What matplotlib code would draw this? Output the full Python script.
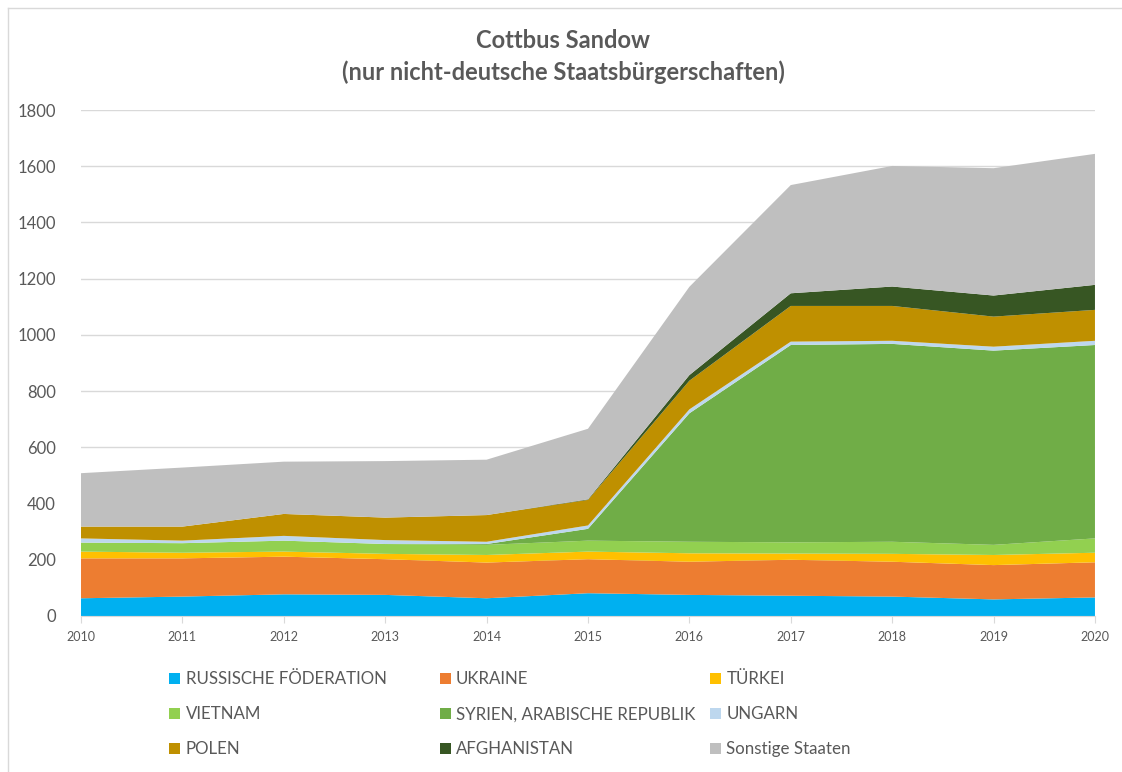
import matplotlib
matplotlib.use("Agg")
import matplotlib.pyplot as plt
from matplotlib.patches import Patch
from matplotlib.lines import Line2D

# values (persons per year)
years = [2010, 2011, 2012, 2013, 2014, 2015, 2016, 2017, 2018, 2019, 2020]
russland = [63, 69, 77, 75, 63, 81, 75, 72, 69, 59, 66]
ukraine = [142, 136, 134, 127, 127, 121, 118, 128, 124, 122, 125]
tuerkei = [24, 20, 18, 19, 27, 27, 30, 22, 28, 36, 34]
vietnam = [32, 34, 39, 35, 36, 39, 41, 40, 43, 36, 51]
syrien = [0, 0, 0, 0, 3, 42, 457, 702, 704, 691, 688]
ungarn = [15, 9, 17, 14, 8, 12, 14, 12, 11, 14, 15]
polen = [42, 50, 78, 80, 95, 91, 102, 127, 124, 107, 110]
afghanistan = [0, 0, 0, 0, 0, 2, 20, 45, 69, 75, 89]
sonstige = [190, 210, 186, 201, 197, 251, 314, 385, 429, 453, 466]

labels = ["RUSSISCHE FÖDERATION", "UKRAINE", "TÜRKEI", "VIETNAM",
          "SYRIEN, ARABISCHE REPUBLIK", "UNGARN", "POLEN", "AFGHANISTAN",
          "Sonstige Staaten"]
colors = ["#00B0F0", "#ED7D31", "#FFC000", "#92D050", "#70AD47",
          "#BDD7EE", "#BF9000", "#375623", "#BFBFBF"]
series = [russland, ukraine, tuerkei, vietnam, syrien, ungarn, polen,
          afghanistan, sonstige]

TXT = "#595959"
plt.rcParams["font.family"] = ["Lato", "DejaVu Sans"]

fig = plt.figure(figsize=(11.22, 7.72), dpi=100)
ax = fig.add_axes([0.0722, 0.2021, 0.9037, 0.6554])

ax.stackplot(years, *series, colors=colors, linewidth=0)

ax.set_xlim(2010, 2020)
ax.set_ylim(0, 1800)
ax.set_xticks(years)
ax.set_yticks(range(0, 1801, 200))
ax.grid(axis="y", color="#D9D9D9", linewidth=1)
ax.set_axisbelow(True)
for s in ["left", "right", "top"]:
    ax.spines[s].set_visible(False)
ax.spines["bottom"].set_color("#D9D9D9")
ax.tick_params(axis="y", length=0, labelsize=12, labelcolor=TXT, pad=18)
ax.tick_params(axis="x", length=5, color="#D9D9D9", labelsize=9,
               labelcolor=TXT, pad=6)

fig.text(0.502, 0.948, "Cottbus Sandow", ha="center", va="center",
         fontsize=17, fontweight="bold", color=TXT)
fig.text(0.502, 0.906, "(nur nicht-deutsche Staatsbürgerschaften)",
         ha="center", va="center", fontsize=17, fontweight="bold", color=TXT)

# legend laid out row by row like Excel: three separate columns
handles = [Patch(facecolor=c, edgecolor="none") for c in colors]
col_x = [0.145, 0.386, 0.627]
for i, x in enumerate(col_x):
    idx = [i, i + 3, i + 6]
    fig.legend([handles[j] for j in idx], [labels[j] for j in idx],
               loc="upper left", bbox_to_anchor=(x, 0.139), frameon=False,
               fontsize=12.2, labelcolor=TXT, handlelength=0.65,
               handleheight=0.65, handletextpad=0.3, labelspacing=1.12,
               borderaxespad=0)

# chart area border (left and top edges visible in the screenshot)
fig.add_artist(Line2D([8 / 1122, 8 / 1122], [0, 1 - 8 / 772],
                      transform=fig.transFigure, color="#D9D9D9", lw=1))
fig.add_artist(Line2D([8 / 1122, 1], [1 - 8 / 772, 1 - 8 / 772],
                      transform=fig.transFigure, color="#D9D9D9", lw=1))

fig.savefig("out.png", dpi=100)
